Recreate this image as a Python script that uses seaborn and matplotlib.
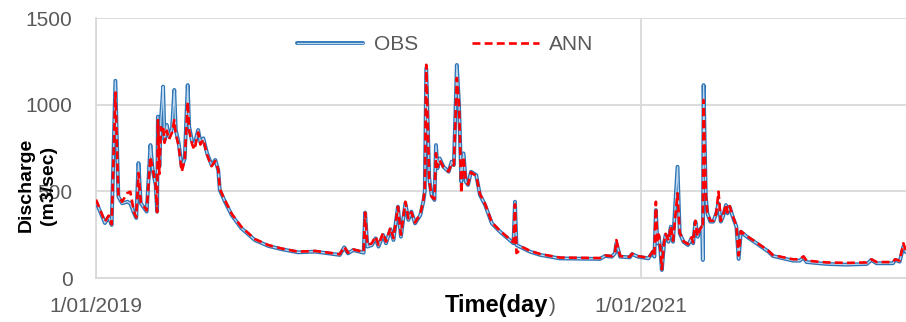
import numpy as np
import pandas as pd
import matplotlib
matplotlib.use("Agg")
import matplotlib.pyplot as plt
import matplotlib.patheffects as pe
import seaborn as sns

# ---- data ----
start_date = "2019-01-01"
day = [0, 12, 17, 21, 26, 30, 35, 42, 46, 51, 54, 57, 60, 68, 73, 76, 80, 82, 83, 85,
       87, 89, 90, 92, 95, 98, 102, 105, 107, 111, 115, 119, 123, 125, 129, 132, 137,
       140, 144, 149, 155, 160, 164, 166, 169, 173, 182, 195, 213, 231, 249, 271, 294,
       312, 327, 333, 338, 345, 359, 361, 364, 370, 375, 379, 385, 389, 395, 399, 405,
       409, 415, 419, 423, 428, 435, 439, 441, 443, 447, 450, 454, 456, 458, 461, 466,
       473, 477, 480, 484, 487, 490, 493, 496, 499, 503, 510, 515, 522, 531, 542, 555,
       560, 562, 564, 573, 582, 596, 622, 676, 683, 692, 696, 698, 703, 716, 719, 727,
       741, 747, 749, 751, 753, 755, 757, 759, 762, 764, 768, 771, 774, 780, 783, 788,
       794, 799, 801, 804, 807, 810, 813, 814, 815, 818, 820, 824, 828, 832, 835, 838,
       841, 845, 847, 850, 854, 859, 862, 865, 873, 886, 902, 908, 935, 944, 949, 953,
       980, 1007, 1034, 1040, 1047, 1069, 1072, 1078, 1083, 1086]
obs = [440, 317, 352, 306, 1138, 469, 431, 440, 431, 374, 346, 663, 432, 383, 767, 623,
       537, 383, 931, 642, 911, 1027, 1104, 796, 883, 815, 864, 1085, 854, 777, 642, 690,
       1113, 873, 786, 767, 854, 786, 806, 719, 652, 681, 623, 508, 479, 440, 363, 287,
       219, 185, 166, 148, 152, 142, 133, 177, 142, 161, 146, 377, 181, 190, 229, 181,
       248, 200, 281, 219, 411, 238, 431, 335, 383, 315, 363, 440, 498, 1210, 575, 479,
       450, 767, 633, 690, 642, 613, 671, 652, 1229, 998, 556, 719, 556, 537, 613, 594,
       479, 421, 315, 267, 219, 200, 440, 190, 171, 152, 133, 113, 110, 127, 123, 142,
       200, 123, 119, 138, 123, 113, 152, 123, 392, 200, 238, 161, 46, 200, 248, 209,
       296, 209, 642, 258, 209, 190, 229, 200, 325, 238, 277, 296, 104, 1113, 469, 373,
       325, 325, 373, 431, 325, 354, 421, 373, 411, 354, 296, 110, 267, 238, 200, 152,
       127, 100, 100, 119, 92, 81, 77, 81, 104, 85, 85, 104, 94, 181, 150]
ann = [452, 325, 360, 310, 1070, 480, 440, 490, 498, 380, 350, 606, 440, 390, 700, 630,
       540, 380, 911, 600, 870, 854, 873, 780, 850, 800, 840, 911, 830, 760, 613, 680,
       1017, 850, 770, 740, 840, 770, 800, 710, 645, 675, 625, 515, 485, 448, 370, 295,
       225, 190, 170, 152, 156, 146, 137, 180, 145, 165, 150, 377, 190, 200, 240, 190,
       260, 210, 290, 230, 411, 250, 440, 344, 380, 320, 370, 445, 510, 1230, 560, 470,
       455, 720, 640, 680, 640, 615, 660, 650, 1154, 1000, 489, 700, 560, 540, 610, 590,
       485, 425, 320, 272, 224, 205, 425, 144, 176, 157, 138, 118, 115, 130, 126, 145,
       219, 126, 122, 140, 126, 116, 155, 130, 440, 210, 250, 170, 50, 205, 255, 215,
       300, 215, 489, 262, 212, 195, 235, 205, 330, 240, 280, 300, 290, 1027, 480, 380,
       330, 330, 375, 498, 330, 360, 425, 378, 415, 360, 300, 130, 270, 242, 205, 157,
       132, 108, 108, 125, 100, 90, 87, 90, 108, 92, 92, 108, 100, 200, 160]
y_ticks = [0, 500, 1000, 1500]
x_tick_dates = ["2019-01-01", "2021-01-01"]
x_tick_labels = ["1/01/2019", "1/01/2021"]

dates = pd.Timestamp(start_date) + pd.to_timedelta(day, unit="D")
df = pd.DataFrame({"date": dates, "OBS": obs, "ANN": ann})

sns.set_theme(style="white")
plt.rcParams["font.family"] = ["Liberation Sans", "DejaVu Sans"]

fig = plt.figure(figsize=(9.06, 3.22), dpi=100)
W, H = 906, 322
ax = fig.add_axes([96 / W, 1 - 278 / H, (906 - 96) / W, (278 - 18) / H])

grid_c = "#d9d9d9"
txt_c = "#595959"

sns.lineplot(data=df, x="date", y="OBS", ax=ax, color="#bdd7ee", lw=0.9,
             label="OBS", zorder=3,
             path_effects=[pe.Stroke(linewidth=2.8, foreground="#2e75b6"), pe.Normal()])
sns.lineplot(data=df, x="date", y="ANN", ax=ax, color="#ff0000", lw=1.9,
             linestyle=(0, (3, 1.6)), label="ANN", zorder=4)

ax.set_ylim(0, 1500)
ax.set_xlim(pd.Timestamp(start_date), pd.Timestamp(start_date) + pd.Timedelta(days=1086.5))
ax.set_yticks(y_ticks)
ax.set_yticklabels([str(v) for v in y_ticks])
ax.set_xticks(pd.to_datetime(x_tick_dates))
ax.set_xticklabels(x_tick_labels)
ax.tick_params(axis="both", length=0, labelsize=15, colors=txt_c)
ax.tick_params(axis="y", pad=17)
ax.tick_params(axis="x", pad=14)

ax.grid(True, axis="both", color=grid_c, lw=1.3)
ax.set_axisbelow(True)
for s in ["top", "right"]:
    ax.spines[s].set_visible(False)
for s in ["left", "bottom"]:
    ax.spines[s].set_color(grid_c)
    ax.spines[s].set_linewidth(1.3)
ax.set_xlabel("")
ax.set_ylabel("")

leg = ax.legend(loc="center", bbox_to_anchor=((445 - 96) / 810, (278 - 45) / 260),
                ncol=2, frameon=False, fontsize=15, handlelength=3.2,
                columnspacing=2.6, handletextpad=0.5)
for t in leg.get_texts():
    t.set_color(txt_c)

fig.text(37 / W, 1 - 185 / H, "Discharge\n(m3/sec)", rotation=90, ha="center",
         va="center", fontsize=14, fontweight="bold", color="black",
         linespacing=1.4, multialignment="center")
fig.text(548 / W, 1 - 312 / H, "Time(day", ha="right", va="baseline",
         fontsize=17, fontweight="bold", color="black")
fig.text(549 / W, 1 - 312 / H, ")", ha="left", va="baseline",
         fontsize=15, color=txt_c)

fig.savefig("out.png", dpi=100)
